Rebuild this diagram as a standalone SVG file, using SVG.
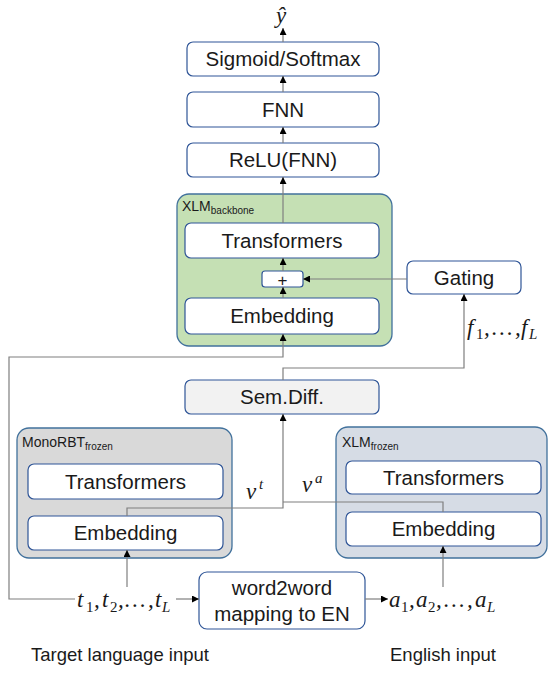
<svg xmlns="http://www.w3.org/2000/svg" width="548" height="684" viewBox="0 0 548 684">
<style>
.box{fill:#fff;stroke:#2f5597;stroke-width:1.2}
.lbl{font-family:"Liberation Sans",Arial,sans-serif;font-size:20.5px;fill:#1a1a1a;text-anchor:middle}
.tag{font-family:"Liberation Sans",Arial,sans-serif;font-size:14px;fill:#1a1a1a}
.tag tspan.s{font-size:10px}
.cap{font-family:"Liberation Sans",Arial,sans-serif;font-size:18.5px;fill:#1a1a1a}
.mi{font-family:"Liberation Serif","Times New Roman",serif;font-style:italic;font-size:23px;fill:#1a1a1a}
.mn{font-family:"Liberation Serif","Times New Roman",serif;font-size:15px;fill:#1a1a1a}
.ms{font-family:"Liberation Serif","Times New Roman",serif;font-style:italic;font-size:15px;fill:#1a1a1a}
.conn path{fill:none;stroke:#7f7f7f;stroke-width:1.2}
.conn path.a{marker-end:url(#ah)}
</style>
<defs>
<marker id="ah" viewBox="0 0 10 10" refX="10" refY="5" markerWidth="7" markerHeight="7" markerUnits="userSpaceOnUse" orient="auto">
<path d="M0,0 L10,5 L0,10 z" fill="#000"/>
</marker>
</defs>
<rect width="548" height="684" fill="#fff"/>

<g id="yhat"><text class="mi" x="276" y="23">ŷ</text></g>

<g id="sigmoid"><rect class="box" x="187" y="42" width="192" height="34" rx="6"/><text class="lbl" x="283" y="66">Sigmoid/Softmax</text></g>
<g id="fnn"><rect class="box" x="187" y="92" width="192" height="35" rx="6"/><text class="lbl" x="283" y="117">FNN</text></g>
<g id="relu"><rect class="box" x="187" y="143" width="192" height="34" rx="6"/><text class="lbl" x="283" y="167">ReLU(FNN)</text></g>

<g id="xlm_backbone">
<rect x="177" y="194" width="215" height="152" rx="12" fill="#c5e0b4" stroke="#41719c" stroke-width="1.3"/>
<text class="tag" x="182" y="211">XLM<tspan class="s" dy="3">backbone</tspan></text>
</g>
<g id="bb_transformers"><rect class="box" x="185" y="223" width="194" height="35" rx="6"/><text class="lbl" x="282" y="248">Transformers</text></g>
<g id="plus"><rect class="box" x="262" y="271" width="41" height="16" rx="3"/><text class="lbl" x="282.5" y="285.5" style="font-size:17px">+</text></g>
<g id="bb_embedding"><rect class="box" x="185" y="298" width="194" height="36" rx="6"/><text class="lbl" x="282" y="323">Embedding</text></g>

<g id="gating"><rect class="box" x="407" y="261" width="114" height="33" rx="6"/><text class="lbl" x="464" y="285">Gating</text></g>

<g id="f_label">
<text class="mi" x="467" y="335">f</text><text class="mn" x="476" y="339">1</text><text class="mi" x="484" y="335">,</text>
<text class="mi" x="492" y="335">…</text><text class="mi" x="515" y="335">,</text>
<text class="mi" x="521" y="335">f</text><text class="ms" x="529" y="339">L</text>
</g>

<g id="semdiff"><rect x="185" y="380" width="194" height="34" rx="6" fill="#f2f2f2" stroke="#2f5597" stroke-width="1.2"/><text class="lbl" x="282" y="404">Sem.Diff.</text></g>

<g id="monorbt">
<rect x="17" y="428" width="215" height="130" rx="12" fill="#d9d9d9" stroke="#41719c" stroke-width="1.3"/>
<text class="tag" x="22" y="447">MonoRBT<tspan class="s" dy="3">frozen</tspan></text>
</g>
<g id="mono_transformers"><rect class="box" x="28" y="464" width="195" height="35" rx="6"/><text class="lbl" x="125.5" y="489">Transformers</text></g>
<g id="mono_embedding"><rect class="box" x="28" y="516" width="195" height="34" rx="6"/><text class="lbl" x="125.5" y="540">Embedding</text></g>

<g id="xlm_frozen">
<rect x="336" y="427" width="211" height="131" rx="12" fill="#d6dce5" stroke="#41719c" stroke-width="1.3"/>
<text class="tag" x="342" y="447">XLM<tspan class="s" dy="3">frozen</tspan></text>
</g>
<g id="xf_transformers"><rect class="box" x="346" y="461" width="195" height="33" rx="6"/><text class="lbl" x="443.5" y="485">Transformers</text></g>
<g id="xf_embedding"><rect class="box" x="346" y="512" width="195" height="34" rx="6"/><text class="lbl" x="443.5" y="536">Embedding</text></g>

<g id="vt"><text class="mi" x="246" y="499">v</text><text class="ms" x="259" y="489">t</text></g>
<g id="va"><text class="mi" x="302" y="492">v</text><text class="ms" x="315" y="483">a</text></g>

<g id="word2word"><rect class="box" x="199" y="572" width="166" height="57" rx="8"/><text class="lbl" x="282" y="595">word2word</text><text class="lbl" x="282" y="621">mapping to EN</text></g>

<g id="t_input">
<text class="mi" x="77" y="607">t</text><text class="mn" x="86" y="612">1</text><text class="mi" x="94" y="607">,</text>
<text class="mi" x="102" y="607">t</text><text class="mn" x="110" y="612">2</text><text class="mi" x="118" y="607">,</text>
<text class="mi" x="125" y="607">…</text><text class="mi" x="148" y="607">,</text>
<text class="mi" x="155" y="607">t</text><text class="ms" x="162" y="612">L</text>
</g>
<g id="a_input">
<text class="mi" x="389" y="607">a</text><text class="mn" x="401" y="612">1</text><text class="mi" x="409" y="607">,</text>
<text class="mi" x="416" y="607">a</text><text class="mn" x="428" y="612">2</text><text class="mi" x="436" y="607">,</text>
<text class="mi" x="444" y="607">…</text><text class="mi" x="467" y="607">,</text>
<text class="mi" x="475" y="607">a</text><text class="ms" x="487" y="612">L</text>
</g>

<g id="captions">
<text class="cap" x="31" y="661">Target language input</text>
<text class="cap" x="390" y="661">English input</text>
</g>

<g class="conn" id="connectors">
<path class="a" d="M283,42 V28"/>
<path class="a" d="M283,92 V76"/>
<path class="a" d="M283,143 V127"/>
<path class="a" d="M283,223 V177"/>
<path class="a" d="M283,271 V258"/>
<path class="a" d="M283,298 V287"/>
<path class="a" d="M407,279 H303"/>
<path class="a" d="M75,599 H9 V357 H283 V334"/>
<path class="a" d="M283,380 V368 H464 V294"/>
<path class="a" d="M127,516 V508 H283 V414"/>
<path d="M443,512 V502 H283"/>
<path class="a" d="M127,587 V550"/>
<path class="a" d="M443,587 V546"/>
<path class="a" d="M176,599 H199"/>
<path class="a" d="M365,599 H388"/>
</g>
</svg>
